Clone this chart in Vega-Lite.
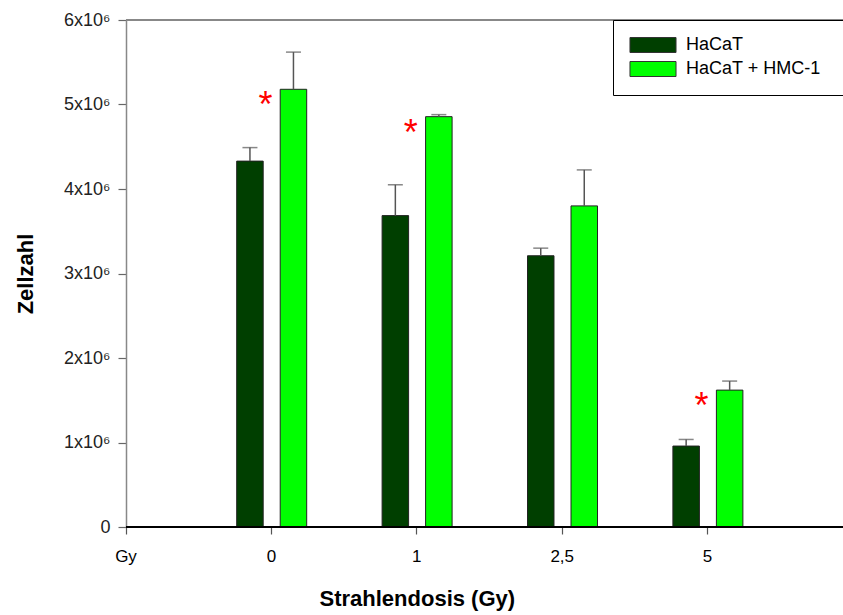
{
  "$schema": "https://vega.github.io/schema/vega-lite/v6.json",
  "width": 717,
  "height": 507,
  "autosize": "none",
  "padding": {"left": 126, "top": 20, "right": 0, "bottom": 88},
  "background": "white",
  "config": {
    "view": {"stroke": null},
    "font": "Liberation Sans"
  },
  "data": {
    "values": [
      {"dose": "0", "group": "HaCaT", "mean": 4330000, "upper": 4490000, "star": ""},
      {"dose": "0", "group": "HaCaT + HMC-1", "mean": 5180000, "upper": 5620000, "star": "*"},
      {"dose": "1", "group": "HaCaT", "mean": 3685000, "upper": 4050000, "star": ""},
      {"dose": "1", "group": "HaCaT + HMC-1", "mean": 4856000, "upper": 4880000, "star": "*"},
      {"dose": "2,5", "group": "HaCaT", "mean": 3210000, "upper": 3300000, "star": ""},
      {"dose": "2,5", "group": "HaCaT + HMC-1", "mean": 3800000, "upper": 4226000, "star": ""},
      {"dose": "5", "group": "HaCaT", "mean": 958000, "upper": 1036000, "star": ""},
      {"dose": "5", "group": "HaCaT + HMC-1", "mean": 1620000, "upper": 1727000, "star": "*"}
    ]
  },
  "layer": [
    {
      "mark": {"type": "rule", "color": "#888", "strokeWidth": 1.5},
      "encoding": {"y": {"datum": 6000000, "type": "quantitative", "scale": {"domain": [0, 6000000], "nice": false}}}
    },
    {
      "mark": {"type": "bar", "stroke": "#222", "strokeWidth": 1},
      "encoding": {
        "x": {
          "field": "dose",
          "type": "nominal",
          "sort": null,
          "scale": {"domain": ["Gy", "0", "1", "2,5", "5"], "range": [-72.7, 654.3], "paddingInner": 0, "paddingOuter": 0},
          "axis": {
            "title": "Strahlendosis (Gy)",
            "titleFontSize": 22,
            "titleFontWeight": "bold",
            "titleColor": "#000",
            "titlePadding": 24,
            "labelAngle": 0,
            "labelFontSize": 17,
            "labelColor": "#000",
            "labelPadding": 14,
            "domain": false,
            "ticks": true,
            "tickSize": 7,
            "tickColor": "#555",
            "tickWidth": 1.2
          }
        },
        "xOffset": {"field": "group", "type": "nominal", "scale": {"range": [38, 108], "paddingInner": 0.391, "paddingOuter": 0}},
        "y": {
          "field": "mean",
          "type": "quantitative",
          "scale": {"domain": [0, 6000000], "nice": false},
          "axis": {
            "title": "Zellzahl",
            "titleFontSize": 22,
            "titleFontWeight": "bold",
            "titleColor": "#000",
            "titlePadding": 26,
            "values": [0, 1000000, 2000000, 3000000, 4000000, 5000000, 6000000],
            "labelExpr": "datum.value == 0 ? '0' : format(datum.value / 1000000, 'd') + 'x10⁶'",
            "labelFontSize": 18,
            "labelColor": "#222",
            "labelPadding": 8,
            "tickSize": 8,
            "tickColor": "#666",
            "tickWidth": 1.2,
            "domainColor": "#888",
            "domainWidth": 1.5,
            "grid": false
          }
        },
        "color": {
          "field": "group",
          "type": "nominal",
          "scale": {"domain": ["HaCaT", "HaCaT + HMC-1"], "range": ["#003f00", "#00ff00"]},
          "legend": {
            "title": null,
            "orient": "none",
            "legendX": 487,
            "legendY": 0,
            "direction": "vertical",
            "strokeColor": "#000",
            "fillColor": "white",
            "padding": 16,
            "symbolType": "M-3.07,-1L3.07,-1L3.07,1L-3.07,1ZM26,0",
            "symbolSize": 225,
            "symbolOffset": 15,
            "symbolStrokeColor": "#333",
            "symbolStrokeWidth": 1,
            "symbolOpacity": 1,
            "labelFontSize": 18,
            "labelColor": "#000",
            "labelOffset": 24,
            "labelLimit": 600,
            "rowPadding": 4
          }
        }
      }
    },
    {
      "mark": {"type": "rule", "color": "#555", "strokeWidth": 1.5},
      "encoding": {
        "x": {"field": "dose", "type": "nominal", "sort": null, "scale": {"domain": ["Gy", "0", "1", "2,5", "5"], "range": [-72.7, 654.3], "paddingInner": 0, "paddingOuter": 0}},
        "xOffset": {"field": "group", "type": "nominal", "scale": {"range": [38, 108], "paddingInner": 0.391, "paddingOuter": 0}},
        "y": {"field": "mean", "type": "quantitative"},
        "y2": {"field": "upper"}
      }
    },
    {
      "mark": {"type": "tick", "color": "#555", "thickness": 1.5, "size": 15},
      "encoding": {
        "x": {"field": "dose", "type": "nominal", "sort": null, "scale": {"domain": ["Gy", "0", "1", "2,5", "5"], "range": [-72.7, 654.3], "paddingInner": 0, "paddingOuter": 0}},
        "xOffset": {"field": "group", "type": "nominal", "scale": {"range": [38, 108], "paddingInner": 0.391, "paddingOuter": 0}},
        "y": {"field": "upper", "type": "quantitative"}
      }
    },
    {
      "transform": [{"filter": "datum.star == '*'"}],
      "mark": {"type": "text", "color": "#ff0000", "fontSize": 36, "dx": -6, "dy": 28, "baseline": "alphabetic", "align": "center"},
      "encoding": {
        "x": {"field": "dose", "type": "nominal", "sort": null, "scale": {"domain": ["Gy", "0", "1", "2,5", "5"], "range": [-72.7, 654.3], "paddingInner": 0, "paddingOuter": 0}},
        "y": {"field": "mean", "type": "quantitative"},
        "text": {"field": "star"}
      }
    },
    {
      "mark": {"type": "rule", "color": "#000", "strokeWidth": 1.5},
      "encoding": {"y": {"datum": 0, "type": "quantitative"}}
    }
  ]
}
